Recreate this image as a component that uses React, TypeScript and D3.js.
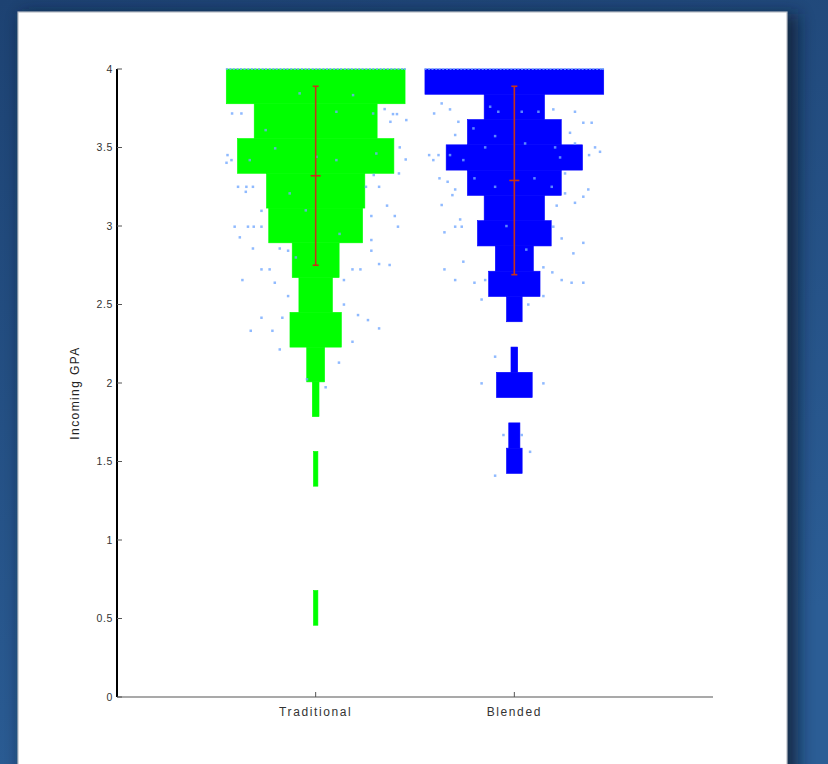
import React from "react";
import * as d3 from "d3";

// groups on the x axis
const categories = ["Traditional", "Blended"];
const groupColors = ["#00ff00", "#0000ff"];

// histogram range of each group (16 equal bins from min to max GPA)
const binRangeTraditional = [0.457, 4.0];
const binRangeBlended = [1.424, 4.0];

// bin counts, lowest bin first
const countsTraditional = [2, 0, 0, 0, 2, 0, 3, 8, 23, 15, 21, 42, 44, 70, 55, 80];
const countsBlended = [7, 5, 0, 16, 3, 0, 7, 23, 17, 33, 27, 42, 61, 42, 27, 80];

// mean +/- std
const means = [3.32, 3.29];
const stds = [0.57, 0.6];

// y axis ticks
const yTicks = [0, 0.5, 1, 1.5, 2, 2.5, 3, 3.5, 4];

// raw points [x (jittered), gpa]
const dotsTraditional = [
  [0.579, 3.717], [0.626, 3.717], [0.556, 3.452], [0.576, 3.42], [0.551, 3.403],
  [0.609, 3.25], [0.651, 3.25], [0.684, 3.25], [0.648, 3.218], [0.727, 3.097],
  [0.592, 2.996], [0.659, 2.996], [0.688, 2.996], [0.727, 2.996], [0.618, 2.928],
  [0.684, 2.857], [0.819, 2.857], [0.861, 2.843], [0.727, 2.724], [0.768, 2.724],
  [0.631, 2.656], [0.794, 2.639], [0.861, 2.554], [0.727, 2.416], [0.832, 2.416],
  [0.673, 2.333], [0.782, 2.333], [0.819, 2.214], [1.347, 3.745], [1.389, 3.713],
  [1.409, 3.713], [1.456, 3.675], [1.376, 3.664], [1.423, 3.501], [1.453, 3.424],
  [1.419, 3.335], [1.292, 3.325], [1.319, 3.25], [1.359, 3.13], [1.28, 3.064],
  [1.398, 3.064], [1.414, 2.996], [1.28, 2.911], [1.28, 2.843], [1.319, 2.758],
  [1.372, 2.752], [1.185, 2.724], [1.225, 2.724], [1.142, 2.656], [1.142, 2.5],
  [1.213, 2.433], [1.263, 2.401], [1.319, 2.348], [1.185, 2.263], [1.117, 2.13],
  [1.05, 1.973], [0.956, 2.024],
  [0.919, 3.845], [1.188, 3.834], [0.748, 3.611], [1.104, 3.728], [1.289, 3.717],
  [0.796, 3.495], [1.003, 3.441], [1.305, 3.462], [0.668, 3.42], [1.104, 3.42],
  [0.869, 3.208], [1.253, 3.25], [0.95, 3.1], [1.12, 2.95], [0.9, 2.8],
];
const dotsBlended = [
  [1.634, 3.781], [1.676, 3.743], [1.596, 3.717], [1.718, 3.664], [1.702, 3.58],
  [1.618, 3.452], [1.571, 3.452], [1.592, 3.42], [1.623, 3.304], [1.664, 3.282],
  [1.702, 3.233], [1.688, 3.197], [1.634, 3.134], [1.727, 3.042], [1.735, 2.996],
  [1.702, 2.996], [1.648, 2.96], [1.743, 2.773], [1.648, 2.724], [1.702, 2.656],
  [1.799, 2.639], [1.835, 2.532], [1.853, 2.656], [1.903, 2.168], [2.196, 3.743],
  [2.305, 3.728], [2.347, 3.658], [2.389, 3.658], [2.28, 3.594], [2.305, 3.526],
  [2.406, 3.501], [2.431, 3.473], [2.376, 3.452], [2.255, 3.335], [2.372, 3.233],
  [2.347, 3.187], [2.255, 3.208], [2.305, 3.148], [2.213, 3.13], [2.196, 2.996],
  [2.238, 2.921], [2.347, 2.893], [2.297, 2.826], [2.146, 2.737], [2.191, 2.705],
  [2.238, 2.656], [2.288, 2.639], [2.347, 2.639], [2.146, 2.554], [2.07, 2.5],
  [1.835, 1.998], [2.146, 1.998], [1.945, 1.669], [2.037, 1.669], [2.079, 1.562],
  [1.903, 1.41],
  [1.878, 3.76], [1.919, 3.728], [2.037, 3.728], [2.121, 3.728], [1.794, 3.622],
  [1.903, 3.573], [2.054, 3.526], [1.853, 3.501], [2.205, 3.501], [1.676, 3.452],
  [1.743, 3.42], [2.23, 3.437], [1.799, 3.304], [2.101, 3.304], [1.903, 3.25],
  [2.188, 3.25], [1.96, 3.0], [2.06, 2.85],
];
// points at GPA 4.0 (x positions)
const topTraditional = [0.553, 0.571, 0.588, 0.607, 0.624, 0.642, 0.661, 0.679, 0.696, 0.715, 0.733, 0.75, 0.769, 0.787, 0.804, 0.823, 0.841, 0.858, 0.877, 0.895, 0.912, 0.931, 0.949, 0.966, 0.985, 1.003, 1.02, 1.039, 1.057, 1.074, 1.093, 1.111, 1.128, 1.147, 1.165, 1.182, 1.201, 1.219, 1.236, 1.255, 1.273, 1.29, 1.309, 1.327, 1.344, 1.363, 1.381, 1.398, 1.417, 1.435, 1.449];
const topBlended = [1.553, 1.571, 1.588, 1.607, 1.624, 1.642, 1.661, 1.679, 1.696, 1.715, 1.733, 1.75, 1.769, 1.787, 1.804, 1.823, 1.841, 1.858, 1.877, 1.895, 1.912, 1.931, 1.949, 1.966, 1.985, 2.003, 2.02, 2.039, 2.057, 2.074, 2.093, 2.111, 2.128, 2.147, 2.165, 2.182, 2.201, 2.219, 2.236, 2.255, 2.273, 2.29, 2.309, 2.327, 2.344, 2.363, 2.381, 2.398, 2.417, 2.435, 2.446];

const W = 828, H = 764;
const margin = { left: 117, right: 115, top: 69, bottom: 67 };
const FONT = "'Liberation Sans', Arial, Helvetica, sans-serif";

export default function App() {
  const x = d3.scaleLinear().domain([0, 3]).range([margin.left, W - margin.right]);
  const y = d3.scaleLinear().domain([0, 4]).range([H - margin.bottom, margin.top]);
  const halfMax = 0.45; // half of max bar width, in x units

  const groups = [
    { range: binRangeTraditional, counts: countsTraditional, dots: dotsTraditional, top: topTraditional },
    { range: binRangeBlended, counts: countsBlended, dots: dotsBlended, top: topBlended },
  ];

  return (
    <div style={{ position: "fixed", left: 0, top: 0 }}>
      <svg width={W} height={H} style={{ display: "block" }}>
        <defs>
          <linearGradient id="bg" x1="0" y1="0" x2="0.3" y2="1">
            <stop offset="0" stopColor="#1d4272" />
            <stop offset="1" stopColor="#2b5d95" />
          </linearGradient>
          <filter id="shadow" x="-10%" y="-10%" width="120%" height="120%">
            <feGaussianBlur stdDeviation="8" />
          </filter>
        </defs>
        <rect width={W} height={H} fill="url(#bg)" />
        <rect x={22} y={14} width={776} height={780} fill="#0c1c33" opacity={0.75} filter="url(#shadow)" />
        <rect x={18} y={12} width={769} height={770} fill="#fff" stroke="#b9bec7" strokeWidth={1.2} />

        {groups.map((g, gi) => {
          const center = gi + 1;
          const maxC = d3.max(g.counts) as number;
          const w = d3.scaleLinear().domain([0, maxC]).range([0, halfMax]);
          const step = (g.range[1] - g.range[0]) / g.counts.length;
          return (
            <g key={gi}>
              {g.counts.map((c, i) => {
                if (!c) return null;
                const lo = g.range[0] + i * step;
                const hi = lo + step;
                return (
                  <rect
                    key={i}
                    x={x(center - w(c))}
                    y={y(hi)}
                    width={x(center + w(c)) - x(center - w(c))}
                    height={y(lo) - y(hi)}
                    fill={groupColors[gi]}
                    stroke={groupColors[gi]}
                    strokeWidth={0.6}
                  />
                );
              })}
            </g>
          );
        })}

        {/* raw points */}
        {groups.map((g, gi) => (
          <g key={"d" + gi} fill="#74a9ff" opacity={0.8}>
            {g.dots.map((d, i) => (
              <rect key={i} x={x(d[0]) - 1.2} y={y(d[1]) - 1.2} width={2.5} height={2.5} />
            ))}
            {g.top.map((v, i) => (
              <rect key={"t" + i} x={x(v) - 1} y={y(4) - 1} width={2} height={2} />
            ))}
          </g>
        ))}

        {/* mean +/- std */}
        {means.map((m, gi) => {
          const cx = x(gi + 1);
          return (
            <g key={"e" + gi} stroke="#c8321a" strokeWidth={1.6}>
              <line x1={cx} x2={cx} y1={y(m + stds[gi])} y2={y(m - stds[gi])} />
              <line x1={cx - 3} x2={cx + 3} y1={y(m + stds[gi])} y2={y(m + stds[gi])} />
              <line x1={cx - 3} x2={cx + 3} y1={y(m - stds[gi])} y2={y(m - stds[gi])} />
              <line x1={cx - 5} x2={cx + 5} y1={y(m)} y2={y(m)} />
            </g>
          );
        })}

        {/* axes */}
        <line x1={x(0)} x2={x(3)} y1={y(0)} y2={y(0)} stroke="#555" strokeWidth={1.2} />
        <line x1={x(0)} x2={x(0)} y1={y(0)} y2={y(4)} stroke="#000" strokeWidth={2} />
        {yTicks.map((t) => (
          <g key={"y" + t}>
            <line x1={x(0)} x2={x(0) + 5} y1={y(t)} y2={y(t)} stroke="#555" strokeWidth={1} />
            <text
              x={x(0) - 4}
              y={y(t)}
              dy="0.35em"
              textAnchor="end"
              fontFamily={FONT}
              fontSize={10.5}
              letterSpacing={0.6}
              fill="#333"
            >
              {t}
            </text>
          </g>
        ))}
        {categories.map((c, i) => (
          <g key={c}>
            <line x1={x(i + 1)} x2={x(i + 1)} y1={y(0)} y2={y(0) - 5} stroke="#555" strokeWidth={1} />
            <text
              x={x(i + 1)}
              y={y(0) + 19}
              textAnchor="middle"
              fontFamily={FONT}
              fontSize={12}
              letterSpacing={1.6}
              fill="#333"
            >
              {c}
            </text>
          </g>
        ))}
        <text
          transform={`translate(79,393) rotate(-90)`}
          textAnchor="middle"
          fontFamily={FONT}
          fontSize={12}
          letterSpacing={1.4}
          fill="#222"
        >
          Incoming GPA
        </text>
      </svg>
    </div>
  );
}
